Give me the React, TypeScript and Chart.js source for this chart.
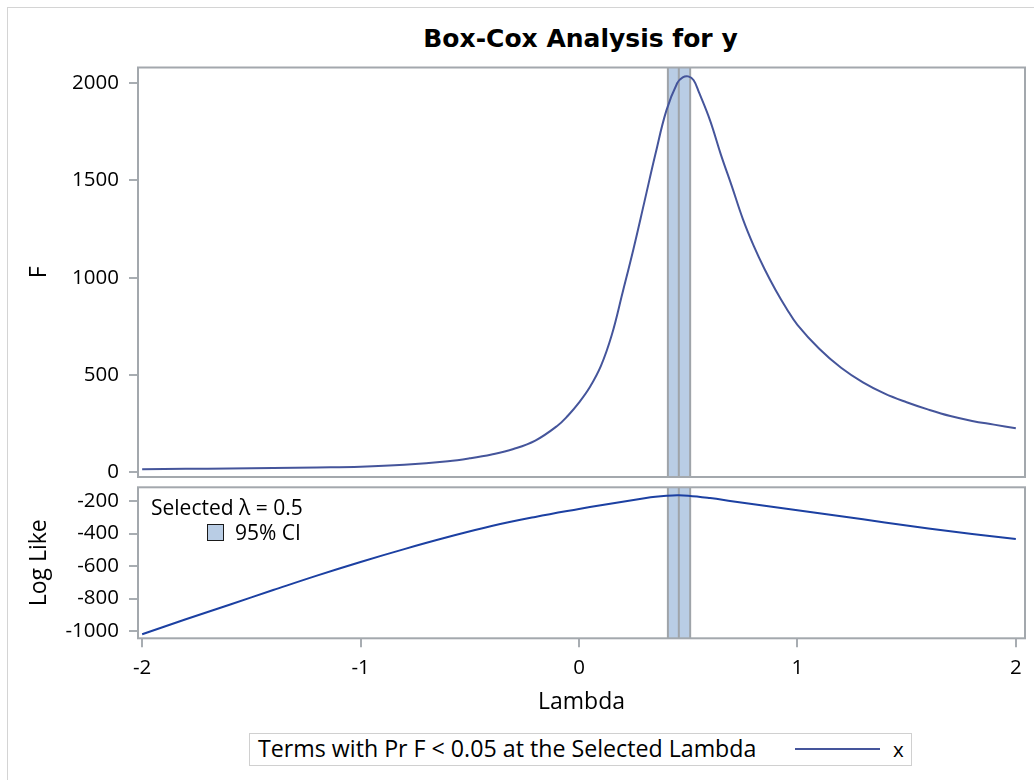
import React, { useEffect, useRef } from "react";
import { Chart, registerables } from "chart.js";

Chart.register(...registerables);

// ---- Data ----
const lambdaF = [
  -2, -1.8, -1.6, -1.4, -1.2, -1, -0.8, -0.6, -0.5, -0.4, -0.3, -0.2, -0.1, -0.05, 0,
  0.05, 0.1, 0.15, 0.2, 0.25, 0.3, 0.35, 0.4, 0.45, 0.475, 0.5, 0.525, 0.55, 0.6, 0.65,
  0.7, 0.75, 0.8, 0.85, 0.9, 0.95, 1.0, 1.1, 1.2, 1.3, 1.4, 1.5, 1.6, 1.7, 1.8, 1.9, 2.0,
];
const fValues = [
  16, 18, 20, 22, 25, 29, 39, 57, 72, 92, 120, 163, 238, 292, 358,
  438, 545, 705, 925, 1150, 1392, 1635, 1858, 2000, 2029, 2034, 2014, 1950, 1808, 1631,
  1469, 1302, 1163, 1043, 937, 842, 758, 635, 537, 462, 404, 360, 322, 289, 264, 245, 226,
];

const lambdaLL = [
  -2, -1.8, -1.6, -1.4, -1.2, -1, -0.8, -0.6, -0.4, -0.2, 0, 0.1, 0.2, 0.3, 0.35,
  0.4, 0.45, 0.5, 0.6, 0.7, 0.8, 0.9, 1.0, 1.2, 1.4, 1.6, 1.8, 2.0,
];
const logLikeValues = [
  -1020, -928, -838, -748, -659, -575, -496, -422, -354, -298, -249, -226, -204, -183, -174,
  -168, -165, -167, -182, -201, -220, -239, -257, -294, -332, -369, -403, -434,
];

const ciLower = 0.407;
const ciUpper = 0.509;
const lambdaBest = 0.457;
const selectedLambda = 0.5;

const xTicks = [-2, -1, 0, 1, 2];
const fTicks = [0, 500, 1000, 1500, 2000];
const llTicks = [-1000, -800, -600, -400, -200];

const xRange = [-2.019, 2.042];
const fRange = [-24, 2079.6];
const llRange = [-1044.9, -115.7];

const titleText = "Box-Cox Analysis for y";
const legendTitle = "Terms with Pr F < 0.05 at the Selected Lambda";
const legendEntry = "x";

// ---- Styles ----
const FRAME = "#a3a8ad";
const TICK_FONT = { family: "'Open Sans'", size: 20.5 };
const LABEL_FONT = { family: "'Open Sans'", size: 23 };
const F_COLOR = "#45559b";
const LL_COLOR = "#1c40a2";
const BAND_FILL = "#b9cde5";

const framePlugin = {
  id: "frame",
  afterDraw(chart: any) {
    const { ctx, chartArea } = chart;
    ctx.save();
    ctx.strokeStyle = FRAME;
    ctx.lineWidth = 2;
    ctx.strokeRect(
      chartArea.left,
      chartArea.top,
      chartArea.right - chartArea.left,
      chartArea.bottom - chartArea.top
    );
    ctx.restore();
  },
};

const bandPlugin = {
  id: "ciBand",
  beforeDatasetsDraw(chart: any) {
    const { ctx, chartArea, scales } = chart;
    const x = scales.x;
    const x1 = x.getPixelForValue(ciLower);
    const x2 = x.getPixelForValue(ciUpper);
    const xm = x.getPixelForValue(lambdaBest);
    ctx.save();
    ctx.fillStyle = BAND_FILL;
    ctx.fillRect(x1, chartArea.top, x2 - x1, chartArea.bottom - chartArea.top);
    ctx.strokeStyle = "#9fa4a9";
    ctx.lineWidth = 2;
    [x1, xm, x2].forEach((px) => {
      ctx.beginPath();
      ctx.moveTo(px, chartArea.top);
      ctx.lineTo(px, chartArea.bottom);
      ctx.stroke();
    });
    ctx.restore();
  },
};

function yScale(range: number[], ticks: number[], title: string) {
  return {
    type: "linear",
    min: range[0],
    max: range[1],
    afterFit: (s: any) => {
      s.width = 138;
      s.paddingTop = 0;
      s.paddingBottom = 0;
    },
    afterBuildTicks: (s: any) => {
      s.ticks = ticks.map((v) => ({ value: v }));
    },
    ticks: {
      font: TICK_FONT,
      color: "#000",
      padding: 10,
      callback: (v: any) => String(v),
    },
    grid: {
      drawOnChartArea: false,
      drawTicks: true,
      tickLength: 9,
      color: "#a8adb2",
      lineWidth: 2,
    },
    border: { display: false },
    title: {
      display: true,
      text: title,
      font: LABEL_FONT,
      color: "#000",
      padding: { top: 25.2, bottom: 0 },
    },
  };
}

export default function App() {
  const topRef = useRef<HTMLCanvasElement | null>(null);
  const botRef = useRef<HTMLCanvasElement | null>(null);

  useEffect(() => {
    const top = new Chart(topRef.current as HTMLCanvasElement, {
      type: "line",
      data: {
        datasets: [
          {
            data: lambdaF.map((l, i) => ({ x: l, y: fValues[i] })),
            borderColor: F_COLOR,
            borderWidth: 2,
            pointRadius: 0,
            tension: 0.4,
            fill: false,
          },
        ],
      },
      options: {
        animation: false,
        responsive: false,
        maintainAspectRatio: false,
        events: [],
        layout: { padding: { left: 0, right: 9, top: 67.5, bottom: 5 } },
        plugins: {
          legend: { display: false },
          tooltip: { enabled: false },
          title: { display: false },
        },
        scales: {
          x: { type: "linear", min: xRange[0], max: xRange[1], display: false },
          y: yScale(fRange, fTicks, "F"),
        },
      } as any,
      plugins: [bandPlugin, framePlugin],
    });

    const bot = new Chart(botRef.current as HTMLCanvasElement, {
      type: "line",
      data: {
        datasets: [
          {
            data: lambdaLL.map((l, i) => ({ x: l, y: logLikeValues[i] })),
            borderColor: LL_COLOR,
            borderWidth: 2,
            pointRadius: 0,
            tension: 0.4,
            fill: false,
          },
        ],
      },
      options: {
        animation: false,
        responsive: false,
        maintainAspectRatio: false,
        events: [],
        layout: { padding: { left: 0, right: 9, top: 5.3, bottom: 0 } },
        plugins: {
          legend: { display: false },
          tooltip: { enabled: false },
          title: { display: false },
        },
        scales: {
          x: {
            type: "linear",
            min: xRange[0],
            max: xRange[1],
            afterFit: (s: any) => {
              s.height = 81.7;
              s.paddingLeft = 0;
              s.paddingRight = 0;
            },
            afterBuildTicks: (s: any) => {
              s.ticks = xTicks.map((v) => ({ value: v }));
            },
            ticks: {
              font: TICK_FONT,
              color: "#000",
              padding: 9,
              maxRotation: 0,
              callback: (v: any) => String(v),
            },
            grid: {
              drawOnChartArea: false,
              drawTicks: true,
              tickLength: 9,
              color: "#a8adb2",
              lineWidth: 2,
            },
            border: { display: false },
            title: {
              display: true,
              text: "Lambda",
              font: LABEL_FONT,
              color: "#000",
              padding: { top: 0, bottom: 4.2 },
            },
          },
          y: yScale(llRange, llTicks, "Log Like"),
        },
      } as any,
      plugins: [bandPlugin, framePlugin],
    });

    return () => {
      top.destroy();
      bot.destroy();
    };
  }, []);

  const openSans = "'Open Sans', sans-serif";

  return (
    <div
      style={{
        position: "fixed",
        left: 0,
        top: 0,
        width: 1034,
        height: 780,
        overflow: "hidden",
        background: "#fff",
      }}
    >
      <div
        style={{
          position: "absolute",
          left: 7,
          top: 7,
          width: 1100,
          height: 900,
          border: "1px solid #d4d4d4",
        }}
      />
      <div
        style={{
          position: "absolute",
          left: 330,
          top: 24,
          width: 501,
          textAlign: "center",
          font: "bold 25px 'DejaVu Sans', sans-serif",
          lineHeight: "30px",
          color: "#000",
          whiteSpace: "nowrap",
        }}
      >
        {titleText}
      </div>
      <canvas
        ref={topRef}
        width={1034}
        height={482}
        style={{ position: "absolute", left: 0, top: 0, display: "block" }}
      />
      <canvas
        ref={botRef}
        width={1034}
        height={238}
        style={{ position: "absolute", left: 0, top: 482, display: "block" }}
      />
      {/* inset legend */}
      <div
        style={{
          position: "absolute",
          left: 151,
          top: 493.3,
          fontFamily: openSans,
          fontSize: 21,
          lineHeight: "28px",
          color: "#000",
          whiteSpace: "nowrap",
        }}
      >
        {"Selected \u03bb = " + selectedLambda}
      </div>
      <div
        style={{
          position: "absolute",
          left: 207,
          top: 524,
          width: 17,
          height: 17,
          boxSizing: "border-box",
          background: BAND_FILL,
          border: "1.5px solid #1a1a1a",
        }}
      />
      <div
        style={{
          position: "absolute",
          left: 235,
          top: 517.6,
          fontFamily: openSans,
          fontSize: 21,
          lineHeight: "28px",
          color: "#000",
          whiteSpace: "nowrap",
        }}
      >
        95% CI
      </div>
      {/* bottom legend */}
      <div
        style={{
          position: "absolute",
          left: 249,
          top: 733,
          width: 663,
          height: 33,
          boxSizing: "border-box",
          border: "1px solid #d0d0d0",
        }}
      />
      <div
        style={{
          position: "absolute",
          left: 258,
          top: 732.1,
          fontFamily: openSans,
          fontSize: 23.2,
          lineHeight: "32px",
          color: "#000",
          whiteSpace: "nowrap",
        }}
      >
        {legendTitle}
      </div>
      <div
        style={{
          position: "absolute",
          left: 795,
          top: 748,
          width: 85,
          height: 2,
          background: F_COLOR,
        }}
      />
      <div
        style={{
          position: "absolute",
          left: 893,
          top: 735,
          fontFamily: openSans,
          fontSize: 20.5,
          lineHeight: "28px",
          color: "#000",
          whiteSpace: "nowrap",
        }}
      >
        {legendEntry}
      </div>
    </div>
  );
}
